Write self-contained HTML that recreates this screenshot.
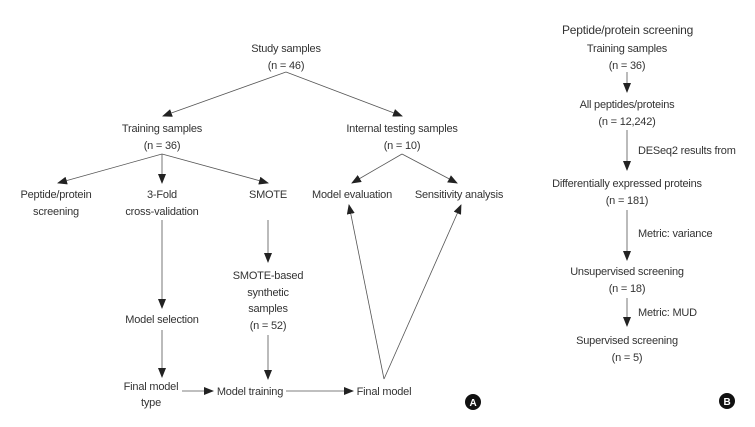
<!DOCTYPE html>
<html><head><meta charset="utf-8"><style>
html,body{margin:0;padding:0;background:#fff;}
svg{display:block;}
text{font-family:"Liberation Sans",sans-serif;font-size:11px;fill:#333;text-anchor:middle;letter-spacing:-0.2px;}
.l{stroke:#555;stroke-width:0.8;fill:none;}
</style></head><body>
<svg width="755" height="427" viewBox="0 0 755 427">
<defs><marker id="a" markerWidth="10" markerHeight="8" refX="9" refY="4" orient="auto" markerUnits="userSpaceOnUse"><path d="M0,0L10,4L0,8z" fill="#222"/></marker></defs>
<g class="l" marker-end="url(#a)">
<line x1="286" y1="72" x2="163" y2="116"/>
<line x1="286" y1="72" x2="402" y2="116"/>
<line x1="162" y1="154" x2="58" y2="183"/>
<line x1="162" y1="154" x2="162" y2="183"/>
<line x1="162" y1="154" x2="268" y2="183"/>
<line x1="402" y1="154" x2="352" y2="183"/>
<line x1="402" y1="154" x2="457" y2="183"/>
<line x1="162" y1="220" x2="162" y2="308"/>
<line x1="162" y1="330" x2="162" y2="377"/>
<line x1="268" y1="220" x2="268" y2="262"/>
<line x1="268" y1="335" x2="268" y2="379"/>
<line x1="182" y1="391" x2="213" y2="391"/>
<line x1="286" y1="391" x2="353" y2="391"/>
<line x1="384" y1="379" x2="349" y2="205"/>
<line x1="384" y1="379" x2="461" y2="205"/>
<line x1="627" y1="72" x2="627" y2="92"/>
<line x1="627" y1="130" x2="627" y2="170"/>
<line x1="627" y1="210" x2="627" y2="260"/>
<line x1="627" y1="298" x2="627" y2="326"/>
</g>
<text x="286" y="52">Study samples</text><text x="286" y="69">(n = 46)</text>
<text x="162" y="132">Training samples</text><text x="162" y="149">(n = 36)</text>
<text x="402" y="132">Internal testing samples</text><text x="402" y="149">(n = 10)</text>
<text x="56" y="198">Peptide/protein</text><text x="56" y="215">screening</text>
<text x="162" y="198">3-Fold</text><text x="162" y="215">cross-validation</text>
<text x="268" y="198">SMOTE</text>
<text x="352" y="198">Model evaluation</text>
<text x="459" y="198">Sensitivity analysis</text>
<text x="162" y="323">Model selection</text>
<text x="268" y="279">SMOTE-based</text><text x="268" y="296">synthetic</text><text x="268" y="312">samples</text><text x="268" y="329">(n = 52)</text>
<text x="151" y="390">Final model</text><text x="151" y="406">type</text>
<text x="250" y="395">Model training</text>
<text x="384" y="395">Final model</text>
<circle cx="473" cy="402" r="8" fill="#111"/><text x="473" y="406" style="fill:#fff;font-weight:bold;font-size:10px">A</text>
<text x="562" y="34" style="text-anchor:start;font-size:12px">Peptide/protein screening</text>
<text x="627" y="52">Training samples</text><text x="627" y="69">(n = 36)</text>
<text x="627" y="108">All peptides/proteins</text><text x="627" y="125">(n = 12,242)</text>
<text x="638" y="154" style="text-anchor:start">DESeq2 results from</text>
<text x="627" y="187">Differentially expressed proteins</text><text x="627" y="204">(n = 181)</text>
<text x="638" y="237" style="text-anchor:start">Metric: variance</text>
<text x="627" y="275">Unsupervised screening</text><text x="627" y="292">(n = 18)</text>
<text x="638" y="316" style="text-anchor:start">Metric: MUD</text>
<text x="627" y="344">Supervised screening</text><text x="627" y="361">(n = 5)</text>
<circle cx="727" cy="401" r="8" fill="#111"/><text x="727" y="405" style="fill:#fff;font-weight:bold;font-size:10px">B</text>
</svg>
</body></html>
